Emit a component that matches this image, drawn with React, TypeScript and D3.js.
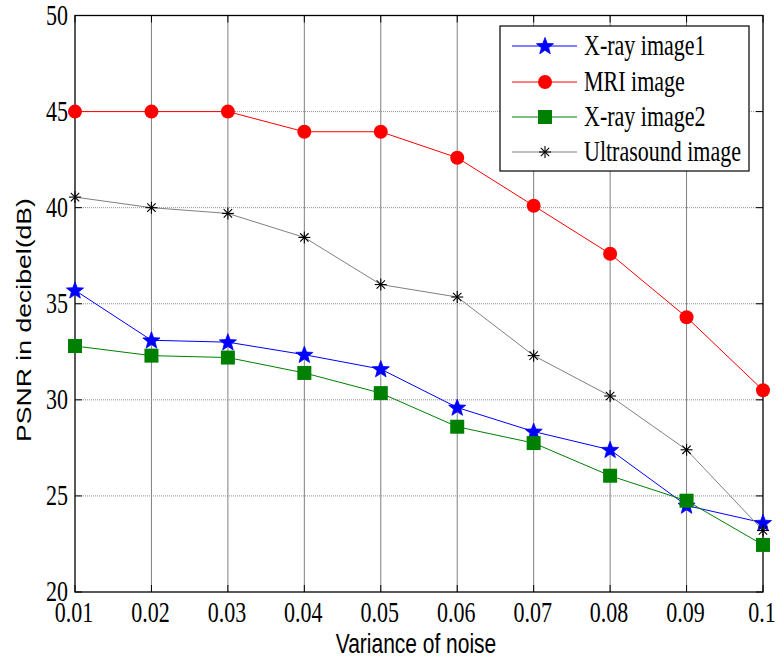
import React from "react";
import * as d3 from "d3";

const xValues = [0.01, 0.02, 0.03, 0.04, 0.05, 0.06, 0.07, 0.08, 0.09, 0.1];
const xTickLabels = ["0.01", "0.02", "0.03", "0.04", "0.05", "0.06", "0.07", "0.08", "0.09", "0.1"];
const yTicks = [20, 25, 30, 35, 40, 45, 50];
const xray1 = [35.7, 33.1, 33.0, 32.35, 31.6, 29.6, 28.35, 27.4, 24.5, 23.6];
const mri = [45.0, 45.0, 45.0, 43.95, 43.95, 42.6, 40.1, 37.6, 34.3, 30.5];
const xray2 = [32.8, 32.3, 32.2, 31.4, 30.35, 28.6, 27.75, 26.05, 24.75, 22.45];
const ultrasound = [40.55, 40.0, 39.7, 38.45, 36.0, 35.35, 32.3, 30.2, 27.4, 23.2];

const seriesNames = ["X-ray image1", "MRI image", "X-ray image2", "Ultrasound image"];
const seriesData = [xray1, mri, xray2, ultrasound];
const lineColors = ["#0000ff", "#ff0000", "#008000", "#808080"];
const markerKinds = ["star", "circle", "square", "asterisk"];

const W = 776, H = 659;
const L = 75, R = 763, T = 15.5, B = 592;
const SY = 1.3;

function starPath(cx: number, cy: number, ro: number, ri: number) {
  const pts: string[] = [];
  for (let i = 0; i < 10; i++) {
    const r = i % 2 === 0 ? ro : ri;
    const a = -Math.PI / 2 + (i * Math.PI) / 5;
    pts.push(`${cx + r * Math.cos(a)},${cy + r * Math.sin(a)}`);
  }
  return "M" + pts.join("L") + "Z";
}

function Marker({ kind, x, y }: { kind: string; x: number; y: number }) {
  if (kind === "star") return <path d={starPath(x, y + 0.5, 9, 3.8)} fill="#0000ff" stroke="#0000ff" strokeWidth={0.8} />;
  if (kind === "circle") return <circle cx={x} cy={y} r={7} fill="#ff0000" />;
  if (kind === "square") return <rect x={x - 7} y={y - 7} width={14} height={14} fill="#008000" />;
  const s = 6;
  return (
    <g stroke="#000" strokeWidth={1.1}>
      <line x1={x - s} y1={y} x2={x + s} y2={y} />
      <line x1={x} y1={y - s} x2={x} y2={y + s} />
      <line x1={x - s * 0.7} y1={y - s * 0.7} x2={x + s * 0.7} y2={y + s * 0.7} />
      <line x1={x - s * 0.7} y1={y + s * 0.7} x2={x + s * 0.7} y2={y - s * 0.7} />
    </g>
  );
}

export default function App() {
  const x = d3.scaleLinear().domain([0.01, 0.1]).range([L, R]);
  const y = d3.scaleLinear().domain([20, 50]).range([B, T]);
  const line = d3.line<number>().x((_, i) => x(xValues[i])).y((d) => y(d));
  const serif = "'Liberation Serif', 'Times New Roman', serif";
  const sans = "'Liberation Sans', Arial, sans-serif";
  const legX = 500, legY = 26, legW = 249, legH = 145;
  const legRows = [46, 82, 117, 152];
  return (
    <svg width={W} height={H} style={{ position: "absolute", left: 0, top: 0, background: "#fff" }}>
      <rect x={0} y={0} width={W} height={H} fill="#fff" />
      {xValues.slice(1, -1).map((v, i) => (
        <line key={"gx" + i} x1={x(v)} x2={x(v)} y1={T} y2={B} stroke="#808080" strokeWidth={1} />
      ))}
      {yTicks.slice(1, -1).map((v, i) => (
        <line key={"gy" + i} x1={L} x2={R} y1={y(v)} y2={y(v)} stroke="#909090" strokeWidth={1} strokeDasharray="1,1" />
      ))}
      {xValues.map((v, i) => (
        <g key={"tx" + i} stroke="#000">
          <line x1={x(v)} x2={x(v)} y1={B} y2={B - 7} />
          <line x1={x(v)} x2={x(v)} y1={T} y2={T + 7} />
        </g>
      ))}
      {yTicks.map((v, i) => (
        <g key={"ty" + i} stroke="#000">
          <line x1={L} x2={L + 7} y1={y(v)} y2={y(v)} />
          <line x1={R} x2={R - 7} y1={y(v)} y2={y(v)} />
        </g>
      ))}
      <rect x={L} y={T} width={R - L} height={B - T} fill="none" stroke="#000" strokeWidth={1.3} />
      {seriesData.map((d, si) => (
        <g key={"s" + si}>
          <path d={line(d) || ""} fill="none" stroke={lineColors[si]} strokeWidth={1} />
          {d.map((v, i) => (
            <Marker key={i} kind={markerKinds[si]} x={x(xValues[i])} y={y(v)} />
          ))}
        </g>
      ))}
      {xValues.map((v, i) => (
        <text key={"lx" + i} transform={`translate(${x(v) - 1},${622}) scale(1,${SY})`} textAnchor="middle" fontFamily={serif} fontSize={22} fill="#000">
          {xTickLabels[i]}
        </text>
      ))}
      {yTicks.map((v, i) => (
        <text key={"ly" + i} transform={`translate(${L - 7},${y(v) + 9}) scale(1,${SY})`} textAnchor="end" fontFamily={serif} fontSize={22} fill="#000">
          {v}
        </text>
      ))}
      <text transform={`translate(416,653) scale(1,1.33)`} textAnchor="middle" fontFamily={sans} fontSize={21} fill="#000">
        Variance of noise
      </text>
      <text transform={`translate(31,320) scale(1,1.33) rotate(-90)`} textAnchor="middle" fontFamily={sans} fontSize={20} fill="#000">
        PSNR in decibel(dB)
      </text>
      <rect x={legX} y={legY} width={legW} height={legH} fill="#fff" stroke="#000" strokeWidth={1.2} />
      {seriesNames.map((n, i) => (
        <g key={"lg" + i}>
          <line x1={512} x2={577} y1={legRows[i]} y2={legRows[i]} stroke={lineColors[i]} strokeWidth={1} />
          <Marker kind={markerKinds[i]} x={545} y={legRows[i]} />
          <text transform={`translate(584,${legRows[i] + 9}) scale(1,${SY})`} fontFamily={serif} fontSize={22} fill="#000">
            {n}
          </text>
        </g>
      ))}
    </svg>
  );
}
